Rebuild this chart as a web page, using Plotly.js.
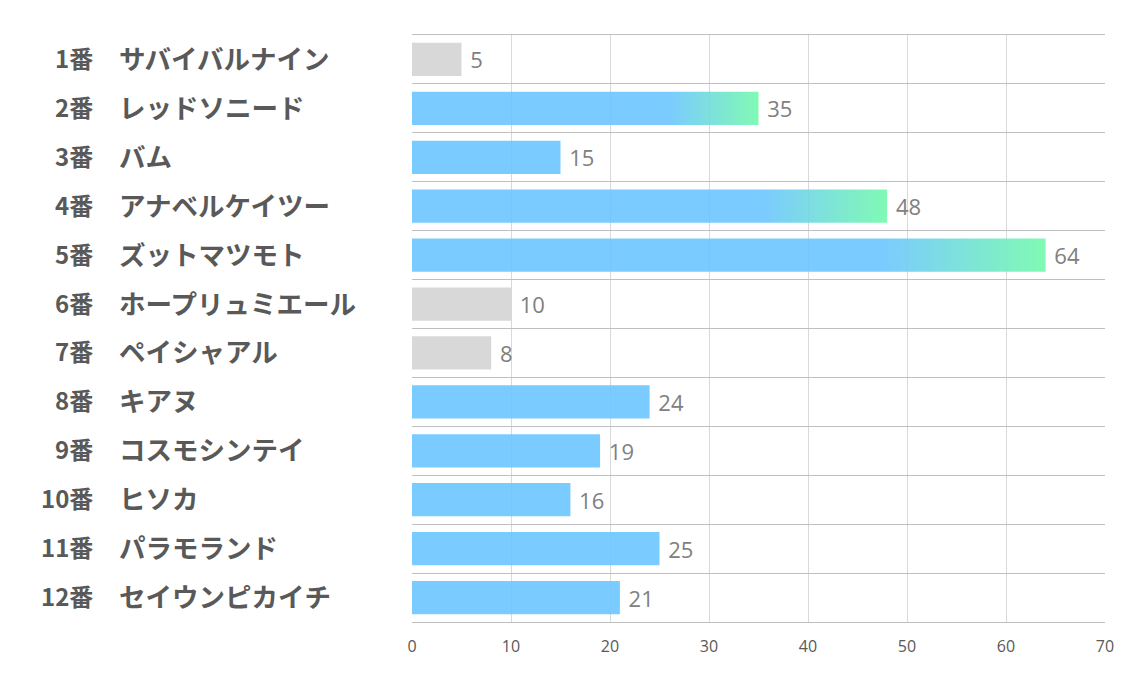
<!DOCTYPE html>
<html><head><meta charset="utf-8">
<script src="https://cdn.plot.ly/plotly-3.0.1.min.js"></script>
<style>body{margin:0;background:#fff}</style>
</head><body>
<div id="chart" style="width:1134px;height:680px"></div>
<script>
const numbers = ['1番','2番','3番','4番','5番','6番','7番','8番','9番','10番','11番','12番'];
const names = ['サバイバルナイン','レッドソニード','バム','アナベルケイツー','ズットマツモト','ホープリュミエール','ペイシャアル','キアヌ','コスモシンテイ','ヒソカ','パラモランド','セイウンピカイチ'];
const values = [5,35,15,48,64,10,8,24,19,16,25,21];
const tickValues = [0,10,20,30,40,50,60,70];

const idx = values.map((_, i) => i);
const sorted = [...values].sort((a,b)=>a-b);
const lowCut = sorted[2];
const highCut = sorted[sorted.length-3];
const BLUE = 'rgb(108,197,255)';
const GREEN = 'rgb(114,249,172)';
const GRAY = 'rgb(212,212,212)';
const colors = values.map(v => v <= lowCut ? GRAY : BLUE);

const data = [{
  type:'bar', orientation:'h', x: values, y: idx, width:0.68,
  marker:{color: colors, opacity:0.9, line:{width:0}},
  text: values.map(v => ' ' + v), textposition:'outside',
  textfont:{size:22, color:'#808080', family:'Open Sans'},
  cliponaxis:false, hoverinfo:'none'
}];

const plotW = 1134 - 412 - 29;
const annotations = [];
idx.forEach(i => {
  annotations.push({xref:'paper', yref:'y', x:(95-412)/plotW, y:i, yshift:2, text:numbers[i], xanchor:'right', yanchor:'middle', showarrow:false,
    font:{family:'Noto Sans CJK JP', size:24, color:'#595959', weight:'bold'}});
  annotations.push({xref:'paper', yref:'y', x:(117-412)/plotW, y:i, yshift:2, text:names[i], xanchor:'left', yanchor:'middle', showarrow:false,
    font:{family:'Noto Sans CJK JP', size:26.5, color:'#595959', weight:'bold'}});
});

const layout = {
  width:1134, height:680,
  margin:{l:412, r:29, t:35, b:58},
  paper_bgcolor:'#fff', plot_bgcolor:'#fff',
  showlegend:false,
  xaxis:{range:[0,70], tickvals:tickValues, showgrid:true, gridcolor:'#d9d9d9', gridwidth:1,
    zeroline:false, showline:true, mirror:true, linecolor:'#bfbfbf', linewidth:1,
    ticks:'', ticklabelstandoff:10, tickfont:{family:'Open Sans', size:16, color:'#595959'}},
  yaxis:{range:[11.5,-0.5], tickvals: idx.map(i=>i-0.5).concat([idx.length-0.5]), showticklabels:false,
    showgrid:true, gridcolor:'#bfbfbf', gridwidth:1, zeroline:false, showline:false, ticks:''},
  annotations: annotations
};

Plotly.newPlot('chart', data, layout, {staticPlot:true}).then(gd => {
  const ns = 'http://www.w3.org/2000/svg';
  const svg = gd.querySelector('svg.main-svg');
  let defs = svg.querySelector('defs');
  if (!defs) { defs = document.createElementNS(ns,'defs'); svg.insertBefore(defs, svg.firstChild); }
  const grad = document.createElementNS(ns,'linearGradient');
  grad.setAttribute('id','barGrad');
  grad.setAttribute('x1','0'); grad.setAttribute('y1','0'); grad.setAttribute('x2','1'); grad.setAttribute('y2','0');
  [[0,BLUE],[0.74,BLUE],[1,GREEN]].forEach(([o,c]) => {
    const s = document.createElementNS(ns,'stop');
    s.setAttribute('offset', o); s.setAttribute('stop-color', c);
    grad.appendChild(s);
  });
  defs.appendChild(grad);
  gd.querySelectorAll('.trace.bars .point path').forEach((p,i) => {
    if (values[i] >= highCut) p.style.fill = 'url(#barGrad)';
  });
});
</script>
</body></html>
